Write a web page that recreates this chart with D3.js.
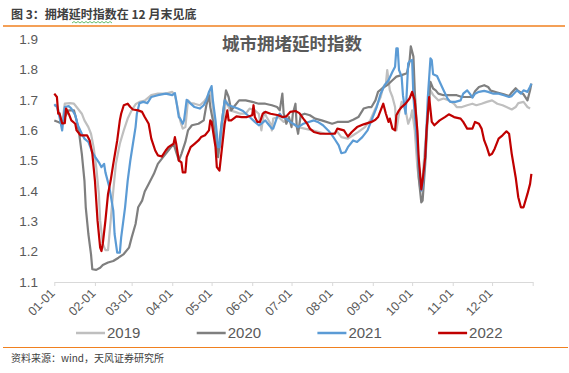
<!DOCTYPE html>
<html lang="zh">
<head>
	<title>城市拥堵延时指数</title>
	<meta charset="utf-8">
	<script src="https://d3js.org/d3.v7.min.js" charset="utf-8"></script>
	<style>
		body { margin: 0; background: #fff; }
		svg { display: block; font-family: "Liberation Sans", "Noto Sans CJK SC", sans-serif; }
		.cn { font-family: "Noto Sans CJK SC", sans-serif; }
		.line { fill: none; stroke-width: 2.2; stroke-linejoin: round; }
	</style>
</head>
<body>
	<script>
		// [day of year, index value]
		var s2019 = [[0,1.68],[2,1.682],[4,1.654],[6,1.621],[8,1.687],[12,1.689],[15,1.687],[17,1.676],[21,1.654],[23,1.632],[26,1.61],[28,1.588],[30,1.544],[32,1.478],[34,1.39],[35,1.302],[37,1.225],[39,1.205],[41,1.205],[43,1.302],[45,1.401],[47,1.489],[50,1.555],[53,1.599],[56,1.638],[59,1.665],[62,1.685],[65,1.693],[69,1.697],[74,1.715],[79,1.72],[85,1.72],[90,1.726],[92,1.715],[94,1.676],[96,1.632],[98,1.605],[100,1.61],[102,1.698],[104,1.689],[107,1.687],[111,1.682],[114,1.693],[116,1.704],[118,1.72],[119,1.731],[121,1.676],[123,1.599],[125,1.522],[127,1.555],[129,1.632],[131,1.698],[134,1.665],[138,1.66],[142,1.654],[146,1.654],[149,1.671],[153,1.665],[156,1.654],[158,1.599],[160,1.66],[162,1.643],[165,1.621],[166,1.599],[167,1.638],[171,1.643],[175,1.627],[179,1.632],[182,1.621],[186,1.61],[191,1.605],[197,1.599],[202,1.594],[207,1.588],[212,1.588],[216,1.594],[219,1.577],[224,1.572],[228,1.583],[232,1.594],[237,1.61],[241,1.632],[245,1.671],[249,1.709],[251,1.742],[253,1.753],[254,1.798],[256,1.731],[258,1.709],[260,1.676],[261,1.599],[263,1.654],[265,1.693],[268,1.665],[270,1.621],[272,1.643],[273,1.665],[275,1.599],[277,1.478],[279,1.412],[281,1.445],[283,1.555],[285,1.654],[287,1.731],[289,1.716],[293,1.698],[297,1.704],[301,1.698],[305,1.687],[307,1.676],[311,1.676],[315,1.682],[319,1.687],[322,1.682],[326,1.687],[330,1.693],[334,1.698],[338,1.687],[342,1.682],[345,1.676],[349,1.668],[352,1.676],[354,1.689],[358,1.693],[361,1.676],[363,1.671]];

		var s2020 = [[0,1.632],[3,1.627],[6,1.621],[8,1.643],[11,1.665],[15,1.665],[17,1.632],[19,1.588],[21,1.522],[23,1.434],[24,1.346],[26,1.258],[28,1.192],[29,1.142],[32,1.14],[35,1.147],[37,1.156],[41,1.164],[45,1.169],[49,1.18],[53,1.192],[57,1.213],[59,1.246],[62,1.291],[64,1.346],[67,1.368],[69,1.398],[72,1.423],[76,1.456],[79,1.489],[83,1.511],[87,1.533],[91,1.555],[93,1.527],[95,1.5],[97,1.522],[100,1.561],[102,1.599],[105,1.616],[110,1.621],[114,1.632],[116,1.682],[118,1.715],[119,1.676],[121,1.632],[123,1.566],[125,1.511],[127,1.599],[130,1.698],[131,1.731],[133,1.709],[135,1.665],[138,1.682],[141,1.698],[146,1.698],[151,1.693],[156,1.687],[161,1.687],[166,1.682],[170,1.676],[172,1.665],[174,1.72],[175,1.654],[176,1.643],[177,1.621],[179,1.643],[181,1.61],[182,1.654],[184,1.687],[185,1.61],[186,1.588],[188,1.649],[191,1.654],[195,1.649],[199,1.638],[204,1.632],[212,1.621],[216,1.627],[219,1.627],[224,1.627],[228,1.634],[232,1.643],[236,1.671],[240,1.676],[242,1.676],[245,1.698],[247,1.726],[250,1.737],[254,1.748],[258,1.764],[261,1.776],[265,1.781],[269,1.787],[271,1.826],[272,1.876],[274,1.842],[275,1.731],[277,1.577],[278,1.445],[280,1.362],[281,1.368],[283,1.489],[285,1.654],[287,1.759],[289,1.737],[291,1.731],[293,1.72],[297,1.715],[307,1.715],[311,1.709],[319,1.709],[321,1.728],[324,1.742],[328,1.748],[331,1.742],[333,1.73],[338,1.724],[343,1.718],[347,1.712],[349,1.724],[352,1.738],[354,1.729],[358,1.718],[361,1.698],[363,1.731],[364,1.753]];

		var s2021 = [[0,1.685],[2,1.676],[4,1.643],[6,1.599],[8,1.676],[11,1.679],[13,1.671],[16,1.649],[18,1.616],[21,1.588],[23,1.572],[26,1.561],[29,1.527],[31,1.513],[34,1.494],[36,1.478],[38,1.489],[39,1.461],[42,1.412],[45,1.335],[46,1.258],[48,1.197],[50,1.197],[51,1.246],[54,1.346],[56,1.434],[58,1.5],[60,1.555],[62,1.61],[63,1.654],[65,1.689],[68,1.693],[71,1.689],[74,1.709],[79,1.715],[85,1.72],[90,1.715],[92,1.722],[93,1.698],[95,1.643],[96,1.638],[98,1.621],[99,1.632],[101,1.7],[104,1.687],[107,1.676],[111,1.671],[114,1.682],[116,1.698],[118,1.726],[120,1.745],[121,1.698],[123,1.632],[125,1.544],[126,1.544],[128,1.632],[130,1.698],[133,1.682],[137,1.676],[140,1.671],[144,1.663],[149,1.643],[153,1.627],[156,1.616],[158,1.621],[161,1.632],[163,1.621],[166,1.605],[167,1.605],[170,1.643],[172,1.654],[174,1.643],[177,1.638],[180,1.627],[184,1.616],[186,1.61],[190,1.621],[198,1.632],[201,1.627],[205,1.616],[209,1.599],[212,1.583],[214,1.57],[217,1.55],[219,1.524],[222,1.527],[224,1.544],[228,1.566],[231,1.561],[235,1.577],[239,1.599],[242,1.632],[246,1.676],[249,1.72],[252,1.748],[255,1.764],[258,1.792],[260,1.809],[261,1.869],[262,1.869],[263,1.798],[265,1.776],[266,1.715],[268,1.654],[269,1.731],[270,1.82],[271,1.826],[273,1.831],[274,1.709],[276,1.599],[278,1.489],[280,1.401],[281,1.412],[283,1.511],[285,1.709],[287,1.836],[288,1.83],[289,1.784],[292,1.778],[294,1.759],[297,1.731],[300,1.704],[302,1.693],[306,1.693],[310,1.698],[312,1.72],[315,1.731],[317,1.72],[319,1.707],[321,1.72],[324,1.726],[328,1.729],[331,1.726],[335,1.72],[339,1.72],[343,1.715],[347,1.709],[349,1.712],[352,1.726],[353,1.731],[356,1.72],[358,1.731],[361,1.726],[363,1.743],[364,1.753]];

		var s2022 = [[0,1.72],[2,1.709],[3,1.654],[4,1.655],[6,1.622],[8,1.623],[9,1.671],[11,1.654],[13,1.632],[16,1.621],[17,1.599],[20,1.583],[25,1.583],[27,1.566],[29,1.523],[31,1.434],[33,1.302],[35,1.213],[36,1.202],[37,1.226],[39,1.302],[41,1.39],[43,1.434],[45,1.489],[48,1.566],[50,1.632],[51,1.654],[53,1.682],[56,1.687],[58,1.676],[60,1.668],[64,1.665],[67,1.66],[69,1.643],[72,1.621],[74,1.572],[77,1.533],[79,1.517],[82,1.513],[85,1.533],[87,1.544],[91,1.555],[92,1.577],[93,1.555],[95,1.5],[97,1.494],[98,1.461],[100,1.461],[101,1.511],[104,1.544],[107,1.555],[110,1.566],[112,1.577],[115,1.583],[118,1.599],[119,1.632],[120,1.627],[123,1.544],[124,1.478],[126,1.467],[128,1.544],[130,1.621],[132,1.665],[133,1.632],[135,1.632],[139,1.645],[143,1.643],[147,1.643],[151,1.649],[152,1.682],[153,1.643],[155,1.627],[157,1.627],[159,1.654],[161,1.66],[165,1.654],[171,1.649],[174,1.643],[177,1.645],[180,1.66],[184,1.663],[187,1.656],[190,1.638],[193,1.621],[195,1.605],[198,1.594],[203,1.588],[214,1.588],[216,1.605],[221,1.599],[224,1.579],[227,1.594],[231,1.61],[236,1.619],[242,1.627],[245,1.634],[247,1.643],[249,1.665],[251,1.687],[253,1.654],[255,1.627],[256,1.638],[258,1.605],[260,1.599],[261,1.649],[263,1.665],[265,1.676],[268,1.687],[271,1.704],[273,1.726],[275,1.698],[277,1.599],[278,1.511],[280,1.405],[281,1.434],[283,1.511],[284,1.599],[286,1.709],[288,1.627],[290,1.616],[294,1.632],[298,1.643],[301,1.652],[305,1.643],[310,1.638],[312,1.627],[315,1.605],[319,1.605],[321,1.627],[324,1.621],[326,1.605],[328,1.566],[330,1.544],[332,1.517],[334,1.522],[336,1.539],[339,1.572],[342,1.583],[345,1.596],[347,1.588],[349,1.522],[352,1.445],[354,1.379],[356,1.346],[358,1.346],[361,1.39],[363,1.423],[364,1.456]];

		var years = ["2019", "2020", "2021", "2022"];
		var colors = ["#bfbfbf", "#7f7f7f", "#5b9bd5", "#c00000"];
		var yTicks = [1.1, 1.2, 1.3, 1.4, 1.5, 1.6, 1.7, 1.8, 1.9];
		var monthLabels = ["01-01","02-01","03-01","04-01","05-01","06-01","07-01","08-01","09-01","10-01","11-01","12-01"];

		var width = 569;
		var height = 373;
		var start = new Date(2022, 0, 1);

		var svg = d3.select("body")
			.append("svg")
			.attr("width", width)
			.attr("height", height);

		// header + orange rules
		svg.append("text")
			.attr("class", "cn")
			.attr("x", 11)
			.attr("y", 19)
			.attr("font-size", 12)
			.attr("font-weight", "bold")
			.attr("fill", "#404040")
			.text("图 3：拥堵延时指数在 12 月末见底");

		svg.append("path")   // spell-check squiggle under 延时指数
			.attr("d", d3.range(0, 41, 2).map(function(d, i) { return (i ? "L" : "M") + (72 + d) + "," + (i % 2 ? 21.5 : 23); }).join(""))
			.attr("fill", "none")
			.attr("stroke", "#3fae49")
			.attr("stroke-width", 0.8);

		svg.append("line")
			.attr("x1", 3).attr("x2", 565)
			.attr("y1", 26).attr("y2", 26)
			.attr("stroke", "#f0801f")
			.attr("stroke-width", 1.5);

		svg.append("line")
			.attr("x1", 3).attr("x2", 568)
			.attr("y1", 347.5).attr("y2", 347.5)
			.attr("stroke", "#f0801f")
			.attr("stroke-width", 1.2);

		svg.append("text")
			.attr("class", "cn")
			.attr("x", 11)
			.attr("y", 362)
			.attr("font-size", 10)
			.attr("fill", "#404040")
			.text("资料来源：wind，天风证券研究所");

		// chart title
		svg.append("text")
			.attr("class", "cn")
			.attr("x", 292)
			.attr("y", 50)
			.attr("text-anchor", "middle")
			.attr("font-size", 17.5)
			.attr("font-weight", "bold")
			.attr("fill", "#595959")
			.text("城市拥堵延时指数");

		var x = d3.scaleTime()
			.domain([start, new Date(2023, 0, 1)])
			.range([54.3, 532.7]);

		var y = d3.scaleLinear()
			.domain([1.1, 1.9])
			.range([282, 39]);

		// y labels, no axis line
		var yAxis = svg.append("g")
			.attr("transform", "translate(38,0)")
			.call(d3.axisLeft(y).tickValues(yTicks).tickFormat(d3.format(".1f")).tickSize(0).tickPadding(0));
		yAxis.select(".domain").remove();
		yAxis.selectAll("text")
			.attr("font-size", 13.5)
			.attr("font-family", "Liberation Sans, sans-serif")
			.attr("fill", "#595959");

		// x axis: month ticks plus the year-end tick
		var monthTicks = d3.timeMonth.range(start, new Date(2023, 0, 2));
		var xAxis = svg.append("g")
			.attr("transform", "translate(0,282)")
			.call(d3.axisBottom(x).tickValues(monthTicks).tickSize(4).tickSizeOuter(0)
				.tickFormat(function(d, i) { return monthLabels[i] || ""; }));
		xAxis.select(".domain").attr("stroke", "#d9d9d9");
		xAxis.selectAll(".tick line").attr("stroke", "#d9d9d9");
		xAxis.selectAll(".tick text")
			.attr("font-size", 12.5)
			.attr("font-family", "Liberation Sans, sans-serif")
			.attr("fill", "#595959")
			.attr("text-anchor", "end")
			.attr("dy", 0)
			.attr("transform", "translate(-4,7) rotate(-45)");

		var line = d3.line()
			.x(function(d) { return x(d3.timeDay.offset(start, d[0])); })
			.y(function(d) { return y(d[1]); });

		var series = [s2019, s2020, s2021, s2022];

		svg.append("g")
			.selectAll("path")
			.data(series)
			.enter()
			.append("path")
			.attr("class", "line")
			.attr("stroke", function(d, i) { return colors[i]; })
			.attr("d", line);

		// legend
		var legend = svg.append("g")
			.selectAll("g")
			.data(years)
			.enter()
			.append("g")
			.attr("transform", function(d, i) { return "translate(" + (76 + i * 120.7) + ",333)"; });

		legend.append("line")
			.attr("x1", 0).attr("x2", 29)
			.attr("stroke", function(d, i) { return colors[i]; })
			.attr("stroke-width", 2.5);

		legend.append("text")
			.attr("x", 31)
			.attr("dy", "0.36em")
			.attr("font-size", 15)
			.attr("fill", "#595959")
			.text(function(d) { return d; });
	</script>
</body>
</html>
